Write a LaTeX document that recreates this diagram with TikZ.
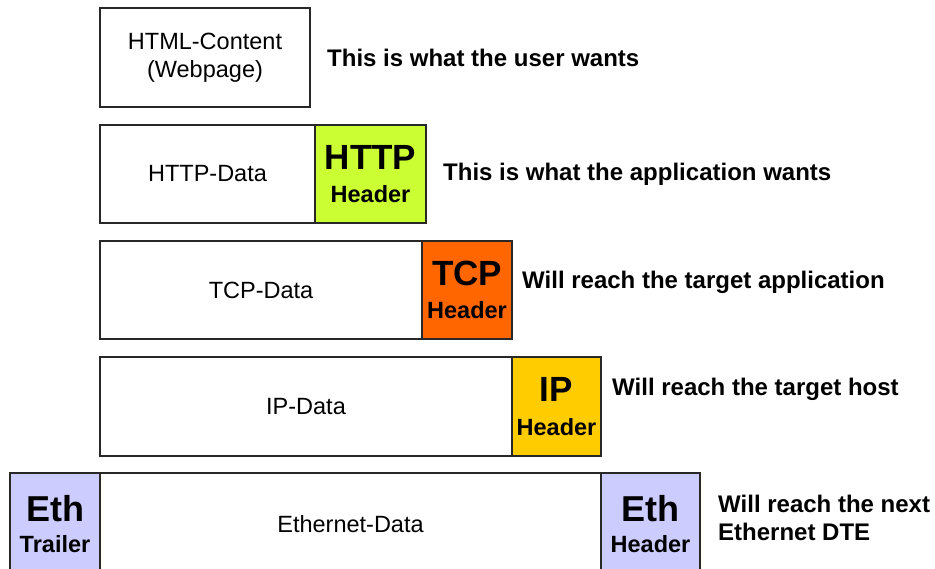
\documentclass[tikz,border=0pt]{standalone}
\usepackage{fontspec}
\setmainfont{Liberation Sans}
\usepackage{xcolor}
\definecolor{lime_hdr}{RGB}{204,255,51}
\definecolor{orange_hdr}{RGB}{255,102,0}
\definecolor{yellow_hdr}{RGB}{255,204,0}
\definecolor{lilac_hdr}{RGB}{204,204,255}
\definecolor{frame_grey}{RGB}{40,40,40}
\usepackage{tikz}
\usetikzlibrary{positioning}

\begin{document}
\begin{tikzpicture}
[	x=1pt, y=-1pt,
 	layer/.style={draw=frame_grey, line width=1.2pt, rectangle, inner sep=0pt, outer sep=0pt, align=center, minimum height=98pt, font=\fontsize{23.5}{28}\selectfont},
 	header/.style={layer, font=\bfseries\fontsize{23.5}{33.5}\selectfont},
 	ethhead/.style={layer, minimum height=102pt, fill=lilac_hdr, font=\bfseries\fontsize{23.5}{31}\selectfont},
 	remark/.style={align=left, inner sep=0pt, font=\bfseries\fontsize{24}{28}\selectfont}
]
\useasboundingbox (0,0) rectangle (935,568);

% webpage
\node(html)[layer, anchor=north west, minimum width=210pt, minimum height=99pt] at (100,8) {HTML-Content\\(Webpage)};

% http
\node(httpdata)[layer, anchor=north west, minimum width=215pt] at (100,125) {HTTP-Data};
\node(httphead)[header, right=0pt of httpdata, minimum width=111pt, fill=lime_hdr] {{\fontsize{35}{35}\selectfont HTTP}\\Header};

% tcp
\node(tcpdata)[layer, anchor=north west, minimum width=322pt] at (100,241) {TCP-Data};
\node(tcphead)[header, right=0pt of tcpdata, minimum width=90pt, fill=orange_hdr] {{\fontsize{35}{35}\selectfont TCP}\\Header};

% ip
\node(ipdata)[layer, anchor=north west, minimum width=412pt, minimum height=99pt] at (100,357) {IP-Data};
\node(iphead)[header, right=0pt of ipdata, minimum width=89pt, minimum height=99pt, fill=yellow_hdr] {{\fontsize{35}{35}\selectfont IP}\\Header};

% ethernet, runs out at the bottom
\node(ethtrail)[ethhead, anchor=north west, minimum width=90pt] at (10,473) {{\fontsize{36}{36}\selectfont Eth}\\Trailer};
\node(ethdata)[layer, right=0pt of ethtrail, minimum width=501pt, minimum height=102pt] {Ethernet-Data};
\node(ethhead)[ethhead, right=0pt of ethdata, minimum width=99pt] {{\fontsize{36}{36}\selectfont Eth}\\Header};

% remarks
\node(usercap)[remark, right=17pt of html]{This is what the user wants};
\node(appcap)[remark, right=17pt of httphead]{This is what the application wants};
\node(tcpcap)[remark, right=10pt of tcphead, yshift=8pt]{Will reach the target application};
\node(ipcap)[remark, right=11pt of iphead, yshift=17pt]{Will reach the target host};
\node(ethcap)[remark, right=18pt of ethhead, yshift=6pt]{Will reach the next\\Ethernet DTE};

\end{tikzpicture}
\end{document}
